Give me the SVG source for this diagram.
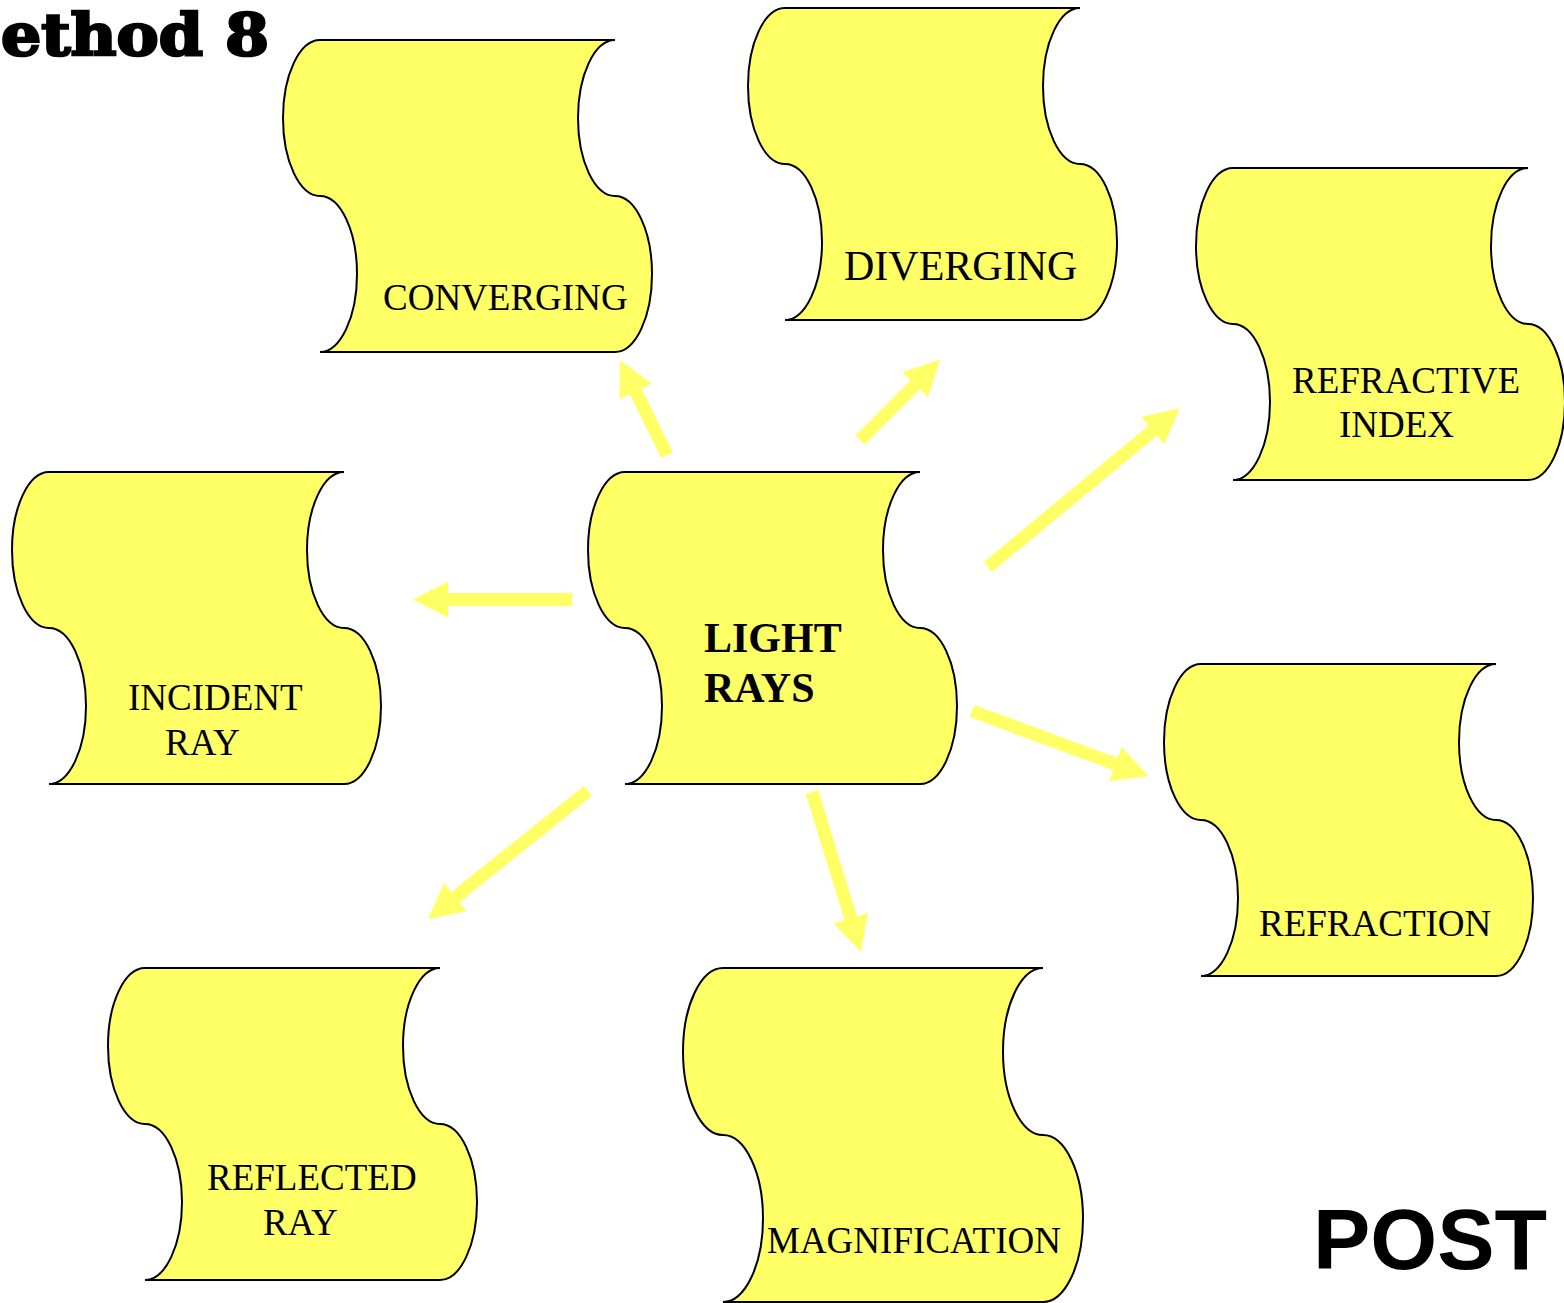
<svg xmlns="http://www.w3.org/2000/svg" xmlns:xlink="http://www.w3.org/1999/xlink" width="1564" height="1303" viewBox="0 0 1564 1303">
<style>
.tape{fill:#FFFF66;stroke:#000;stroke-width:2}
.lbl{font-family:"Liberation Serif","Times New Roman",serif;font-size:37px;fill:#000}
.arrow{fill:#FFFF66;stroke:none}
</style>
<defs>
<path id="tape" d="M0,0 H295 A37,78 0 0 0 258,78 A37,78 0 0 0 295,156 A37,78 0 0 1 332,234 A37,78 0 0 1 295,312 H0 A37,78 0 0 0 37,234 A37,78 0 0 0 0,156 A37,78 0 0 1 -37,78 A37,78 0 0 1 0,0 Z"/>
</defs>
<rect width="1564" height="1303" fill="#fff"/>
<text x="1" y="55" font-family="'DejaVu Serif',serif" font-weight="bold" font-size="57" stroke="#000" stroke-width="2.5" textLength="268" lengthAdjust="spacingAndGlyphs">ethod 8</text>
<g id="connectors">
<polygon class="arrow" transform="translate(667,455) rotate(-116.33)" points="0,-6.5 71,-6.5 71,-18 106,0 71,18 71,6.5 0,6.5"/>
<polygon class="arrow" transform="translate(860,440) rotate(-45)" points="0,-6.5 78,-6.5 78,-18 113,0 78,18 78,6.5 0,6.5"/>
<polygon class="arrow" transform="translate(572,599.5) rotate(180)" points="0,-6.5 124,-6.5 124,-18 159,0 124,18 124,6.5 0,6.5"/>
<polygon class="arrow" transform="translate(988,567) rotate(-39.63)" points="0,-6.5 214,-6.5 214,-18 249,0 214,18 214,6.5 0,6.5"/>
<polygon class="arrow" transform="translate(972,711) rotate(20.27)" points="0,-6.5 153,-6.5 153,-18 188,0 153,18 153,6.5 0,6.5"/>
<polygon class="arrow" transform="translate(588,791) rotate(141.34)" points="0,-6.5 170,-6.5 170,-18 205,0 170,18 170,6.5 0,6.5"/>
<polygon class="arrow" transform="translate(812,792) rotate(72.97)" points="0,-6.5 132,-6.5 132,-18 167,0 132,18 132,6.5 0,6.5"/>
</g>
<g id="node-converging">
<use xlink:href="#tape" href="#tape" class="tape" transform="translate(320,40)"/>
<text class="lbl" x="383" y="310">CONVERGING</text>
</g>
<g id="node-diverging">
<use xlink:href="#tape" href="#tape" class="tape" transform="translate(785,8)"/>
<text class="lbl" x="844" y="280" style="font-size:42px">DIVERGING</text>
</g>
<g id="node-refractive-index">
<use xlink:href="#tape" href="#tape" class="tape" transform="translate(1233,168)"/>
<text class="lbl" x="1292" y="393">REFRACTIVE</text>
<text class="lbl" x="1339" y="437">INDEX</text>
</g>
<g id="node-incident-ray">
<use xlink:href="#tape" href="#tape" class="tape" transform="translate(49,472)"/>
<text class="lbl" x="128" y="710">INCIDENT</text>
<text class="lbl" x="165" y="755">RAY</text>
</g>
<g id="node-light-rays">
<use xlink:href="#tape" href="#tape" class="tape" transform="translate(625,472)"/>
<text class="lbl" x="704" y="652" style="font-size:42px;font-weight:bold">LIGHT</text>
<text class="lbl" x="704" y="702" style="font-size:42px;font-weight:bold">RAYS</text>
</g>
<g id="node-refraction">
<use xlink:href="#tape" href="#tape" class="tape" transform="translate(1201,664)"/>
<text class="lbl" x="1259" y="936">REFRACTION</text>
</g>
<g id="node-reflected-ray">
<use xlink:href="#tape" href="#tape" class="tape" transform="translate(145,968)"/>
<text class="lbl" x="207" y="1190">REFLECTED</text>
<text class="lbl" x="263" y="1235">RAY</text>
</g>
<g id="node-magnification">
<path class="tape" d="M723,968 H1043 A40,83.5 0 0 0 1003,1051.5 A40,83.5 0 0 0 1043,1135 A40,83.5 0 0 1 1083,1218.5 A40,83.5 0 0 1 1043,1302 H723 A40,83.5 0 0 0 763,1218.5 A40,83.5 0 0 0 723,1135 A40,83.5 0 0 1 683,1051.5 A40,83.5 0 0 1 723,968 Z"/>
<text class="lbl" x="767" y="1253">MAGNIFICATION</text>
</g>
<text x="1313" y="1269" font-family="'Liberation Sans',Arial,sans-serif" font-weight="bold" font-size="86">POST</text>
</svg>
